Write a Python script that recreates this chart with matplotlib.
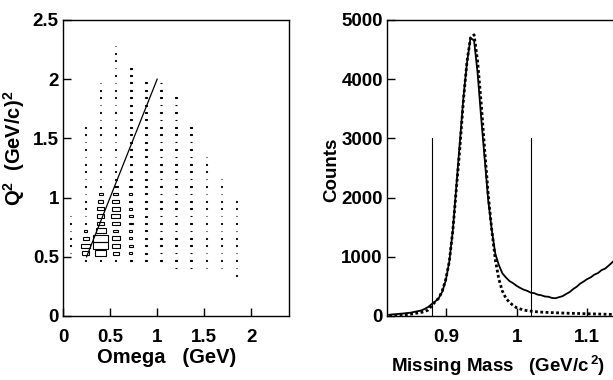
import matplotlib

matplotlib.use("Agg")
import matplotlib.pyplot as plt
import numpy as np
from matplotlib.patches import Rectangle

plt.rcParams["font.family"] = ["Liberation Sans", "DejaVu Sans"]
plt.rcParams["font.weight"] = "bold"
plt.rcParams["mathtext.fontset"] = "custom"
plt.rcParams["mathtext.rm"] = "Liberation Sans:bold"
plt.rcParams["mathtext.it"] = "Liberation Sans:bold"
plt.rcParams["mathtext.default"] = "rm"

# ---- left panel: Q^2 vs omega box histogram ----
OMEGA_BIN = 0.16
Q2_BIN = 0.0625
COUNT_MAX = 1000

omega_centers = [0.08, 0.24, 0.40, 0.56, 0.72, 0.88, 1.04, 1.20, 1.36, 1.52, 1.68, 1.84]
q2_first = [0.53125, 0.46875, 0.46875, 0.46875, 0.46875, 0.46875, 0.46875,
            0.40625, 0.40625, 0.40625, 0.40625, 0.34375]
q2_last = [0.84375, 1.59375, 1.96875, 2.28125, 2.09375, 1.96875, 1.96875,
           1.84375, 1.59375, 1.34375, 1.15625, 0.96875]
base_counts = [80, 80, 80, 90, 120, 120, 80, 80, 80, 80, 80, 80]

# bins with a visibly larger box: (omega, Q2) -> counts
box_cells = {
    (0.24, 0.53125): 490, (0.24, 0.59375): 550, (0.24, 0.65625): 400, (0.24, 0.71875): 220,
    (0.40, 0.53125): 720, (0.40, 0.59375): 1000, (0.40, 0.65625): 1000, (0.40, 0.71875): 660,
    (0.40, 0.78125): 490, (0.40, 0.84375): 490, (0.40, 0.90625): 440, (0.40, 0.96875): 330,
    (0.40, 1.03125): 270,
    (0.56, 0.53125): 400, (0.56, 0.59375): 530, (0.56, 0.65625): 530, (0.56, 0.71875): 350,
    (0.56, 0.78125): 530, (0.56, 0.84375): 570, (0.56, 0.90625): 530, (0.56, 0.96875): 440,
    (0.56, 1.03125): 310, (0.56, 1.09375): 270, (0.56, 1.15625): 150,
    (0.72, 0.53125): 220, (0.72, 0.59375): 250, (0.72, 0.65625): 220, (0.72, 0.71875): 200,
    (0.72, 0.78125): 250, (0.72, 0.84375): 270, (0.72, 0.90625): 220, (0.72, 0.96875): 200,
    (0.72, 1.03125): 200, (0.72, 1.09375): 200,
}

line_omega = [0.25, 1.0]
line_q2 = [0.5, 2.0]

# ---- right panel: missing mass spectra ----
mm = [0.820, 0.825, 0.830, 0.835, 0.840, 0.845, 0.850, 0.855, 0.860, 0.865,
      0.870, 0.875, 0.880, 0.885, 0.890, 0.895, 0.900, 0.905, 0.910, 0.915,
      0.920, 0.925, 0.930, 0.935, 0.940, 0.945, 0.950, 0.955, 0.960, 0.965,
      0.970, 0.975, 0.980, 0.985, 0.990, 0.995, 1.000, 1.005, 1.010, 1.015,
      1.020, 1.025, 1.030, 1.035, 1.040, 1.045, 1.050, 1.055, 1.060, 1.065,
      1.070, 1.075, 1.080, 1.085, 1.090, 1.095, 1.100, 1.105, 1.110, 1.115,
      1.120, 1.125, 1.130, 1.135, 1.140]
counts_data = [20, 28, 30, 38, 42, 50, 55, 68, 80, 92,
               118, 150, 200, 245, 300, 410, 600, 920, 1450, 2200,
               2950, 3700, 4280, 4700, 4650, 4100, 3350, 2650, 1950, 1450,
               1050, 860, 720, 650, 590, 555, 510, 475, 445, 425,
               395, 385, 360, 350, 330, 325, 305, 300, 318, 335,
               372, 405, 455, 495, 548, 585, 625, 655, 700, 725,
               775, 800, 850, 905, 960]
counts_sim = [10, 12, 15, 18, 20, 25, 30, 40, 50, 60,
              75, 100, 170, 240, 300, 420, 620, 920, 1450, 2150,
              2850, 3650, 4300, 4700, 4750, 4300, 3600, 2800, 2050, 1450,
              950, 620, 420, 300, 230, 180, 140, 120, 100, 90,
              82, 75, 70, 66, 62, 60, 57, 55, 52, 50,
              48, 46, 45, 43, 42, 40, 38, 36, 35, 33,
              32, 30, 28, 27, 26]
cut_positions = [0.88, 1.02]
cut_height = 3000

W, H = 613, 380
fig = plt.figure(figsize=(W / 100, H / 100), dpi=100)


def px_axes(x0, y0, x1, y1):
    return fig.add_axes([x0 / W, 1 - y1 / H, (x1 - x0) / W, (y1 - y0) / H])


ax1 = px_axes(63, 20, 289, 316)
for omega, lo, hi, base in zip(omega_centers, q2_first, q2_last, base_counts):
    n_rows = int(round((hi - lo) / Q2_BIN)) + 1
    for j in range(n_rows):
        q2 = round(lo + j * Q2_BIN, 5)
        frac = box_cells.get((omega, q2), base) / COUNT_MAX
        w, h = OMEGA_BIN * frac, Q2_BIN * frac
        ax1.add_patch(Rectangle((omega - w / 2, q2 - h / 2), w, h, fill=False,
                                edgecolor="black", linewidth=0.8))
ax1.plot(line_omega, line_q2, color="black", linewidth=0.9)
ax1.set_xlim(0, 2.4)
ax1.set_ylim(0, 2.5)
ax1.set_xticks([0, 0.5, 1, 1.5, 2])
ax1.set_xticklabels(["0", "0.5", "1", "1.5", "2"])
ax1.set_yticks([0, 0.5, 1, 1.5, 2, 2.5])
ax1.set_yticklabels(["0", "0.5", "1", "1.5", "2", "2.5"])
ax1.set_xlabel("Omega   (GeV)", fontsize=14.5, fontweight="bold")
ax1.xaxis.label.set_va("center")
ax1.xaxis.set_label_coords(0.46, -0.139)
ax1.set_ylabel("Q$^2$  (GeV/c)$^2$", fontsize=14.5, fontweight="bold")
ax1.yaxis.label.set_va("center")
ax1.yaxis.set_label_coords(-0.215, 0.565)

ax2 = px_axes(387, 20, 614, 316)
ax2.plot(mm, counts_data, color="black", linewidth=1.3)
ax2.plot(mm, counts_sim, color="black", linewidth=2.0, linestyle=(0, (1, 0.9)),
         dash_capstyle="butt")
for xc in cut_positions:
    ax2.plot([xc, xc], [0, cut_height], color="black", linewidth=0.8)
ax2.set_xlim(0.817, 0.817 + 227 / 708)
ax2.set_ylim(0, 5000)
ax2.set_xticks([0.9, 1.0, 1.1])
ax2.set_xticklabels(["0.9", "1", "1.1"])
ax2.set_yticks([0, 1000, 2000, 3000, 4000, 5000])
ax2.set_xlabel("Missing Mass   (GeV/c$^{\\,2}$)", fontsize=13.5, fontweight="bold")
ax2.xaxis.label.set_va("center")
ax2.xaxis.set_label_coords(0.49, -0.168)
ax2.set_ylabel("Counts", fontsize=13.5, fontweight="bold")
ax2.yaxis.label.set_va("center")
ax2.yaxis.set_label_coords(-0.242, 0.493)

for ax in (ax1, ax2):
    ax.tick_params(direction="in", length=6, width=1, labelsize=13.5,
                   top=False, right=False)
    ax.tick_params(axis="x", pad=9)
    ax.tick_params(axis="y", pad=3)
    for label in ax.get_xticklabels() + ax.get_yticklabels():
        label.set_fontweight("bold")
    for spine in ax.spines.values():
        spine.set_linewidth(1.0)

fig.savefig("out.png", dpi=100)
